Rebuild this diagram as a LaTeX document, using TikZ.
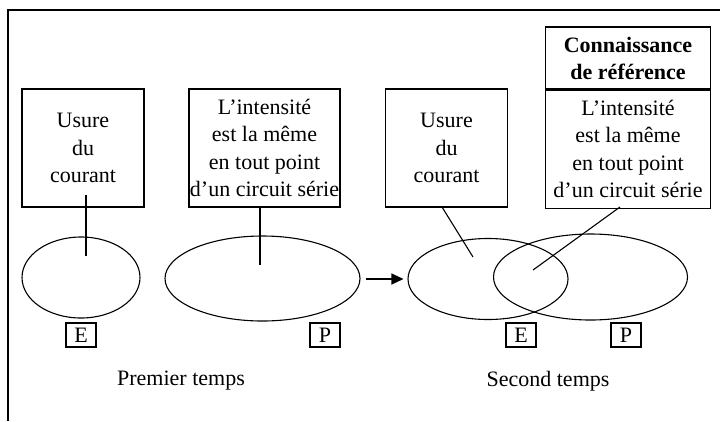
\documentclass[tikz,border=0pt]{standalone}
\usepackage{fontspec}
\setmainfont{Liberation Serif}
\usetikzlibrary{arrows.meta,shapes.geometric}
\begin{document}
\begin{tikzpicture}[x=1pt,y=-1pt,
  every node/.style={font=\fontsize{22}{27.5}\selectfont},
  ln/.style={line width=1.1pt},
  textbox/.style={draw,line width=1.1pt,align=center,inner sep=0pt},
  tag/.style={draw,line width=1.1pt,minimum width=30pt,minimum height=24pt,inner sep=0pt},
  set/.style={draw,line width=1.1pt,ellipse,inner sep=0pt}]
\useasboundingbox (0,0) rectangle (720,421);
% frame: top and left edges
\draw[line width=1.4pt] (720,10) -- (8,10) -- (8,421);

% first stage
\node[textbox,minimum width=122pt,minimum height=118pt] (u1) at (83,148) {Usure\\du\\courant};
\node[textbox,minimum width=151pt,minimum height=118pt] (k1) at (264.5,148)
  {L'intensité\\est la même\\en tout point\\d'un circuit série};
\node[set,minimum width=118pt,minimum height=81pt] (e1) at (81,277.5) {};
\node[set,minimum width=195pt,minimum height=85pt] (p1) at (262.5,278.5) {};
\node[tag] (te1) at (81,335) {E};
\node[tag] (tp1) at (325,335) {P};
\node (t1) at (181,381) {Premier temps};
\coordinate (u1a) at (86,195);
\coordinate (u1b) at (86,256);
\coordinate (k1a) at (260,207);
\coordinate (k1b) at (260,265);
\draw[ln] (u1a) -- (u1b);
\draw[ln] (k1a) -- (k1b);

% second stage
\node[set,minimum width=160pt,minimum height=81pt] (e2) at (488,279) {};
\node[set,minimum width=194pt,minimum height=86pt] (p2) at (590.5,277) {};
\node[textbox,minimum width=122pt,minimum height=118pt] (u2) at (446.5,148) {Usure\\du\\courant};
\node[textbox,minimum width=165pt,minimum height=62pt,font=\fontsize{22}{27}\selectfont\bfseries] (h2) at (628,58)
  {Connaissance\\de référence};
\node[textbox,minimum width=165pt,minimum height=118pt,anchor=north] (k2) at (h2.south)
  {L'intensité\\est la même\\en tout point\\d'un circuit série};
\node[tag] (te2) at (521,335) {E};
\node[tag] (tp2) at (626,335) {P};
\node (t2) at (548,381) {Second temps};
\coordinate (u2a) at (442,207);
\coordinate (u2b) at (473,257);
\coordinate (k2a) at (620,207);
\coordinate (k2b) at (533,270);
\draw[ln] (u2a) -- (u2b);
\draw[ln] (k2a) -- (k2b);

% transition between the two stages
\coordinate (arrA) at (366,279);
\draw[ln,-{Triangle[length=12pt,width=11pt]},shorten >=4pt] (arrA) -- (e2.west);
\end{tikzpicture}
\end{document}
